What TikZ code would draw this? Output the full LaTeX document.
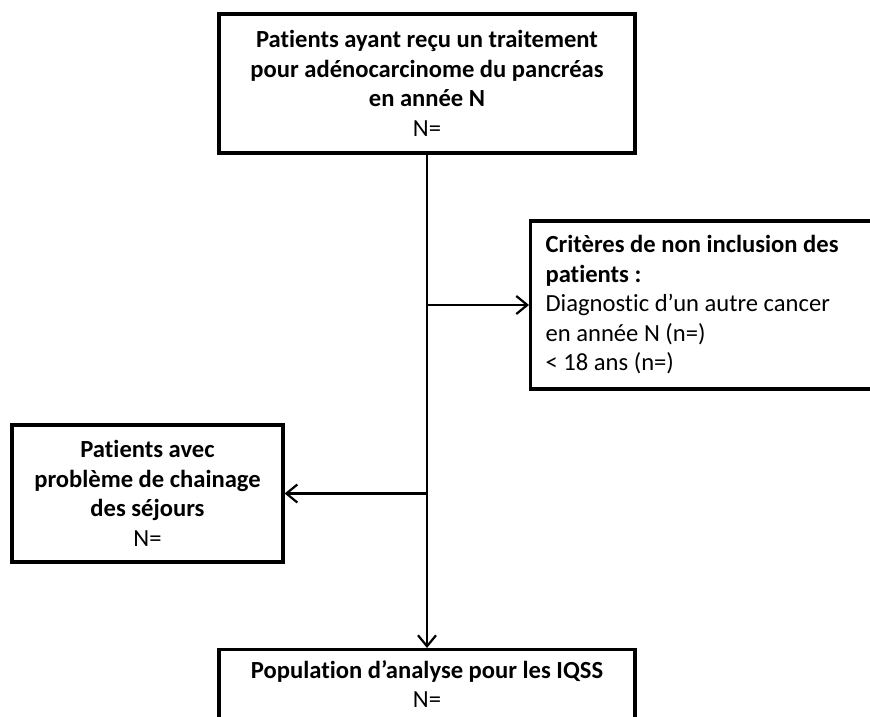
\documentclass[tikz,border=0pt]{standalone}
\usepackage{fontspec}
\setmainfont{Carlito}[Ligatures=NoCommon]
\usetikzlibrary{arrows.meta}
\begin{document}
\begin{tikzpicture}[x=1pt,y=-1pt,
  box/.style={draw, line width=3.2pt, inner sep=0pt},
  conn/.style={line width=2.2pt, -{Straight Barb[length=11pt,width=18pt,line width=2.2pt]}},
  font=\fontsize{24.6}{29.5}\selectfont]
\useasboundingbox (0,0) rectangle (870,717);
\node[box, minimum width=416pt, minimum height=139pt, align=center] (top) at (427,83.5)
  {\textbf{Patients ayant reçu un traitement}\\ \textbf{pour adénocarcinome du pancréas}\\ \textbf{en année N}\\ N=};
\node[box, minimum width=371pt, minimum height=168pt, inner xsep=15pt, text width=341pt, align=flush left, anchor=west] (right) at (529,305)
  {\textbf{Critères de non inclusion des}\\ \textbf{patients :}\\ Diagnostic d’un autre cancer\\ en année N (n=)\\ < 18 ans (n=)};
\node[box, minimum width=271pt, minimum height=137pt, align=center] (left) at (147.5,493.5)
  {\textbf{Patients avec}\\ \textbf{problème de chainage}\\ \textbf{des séjours}\\ N=};
\node[box, minimum width=416pt, minimum height=110pt, anchor=north] (bot) at (427,648) {};
\node[align=center, anchor=north, inner sep=0pt] (bottxt) at (427,660)
  {\textbf{Population d’analyse pour les IQSS}\\ N=};
\draw[conn] (top.south) -- (bot.north);
\draw[conn] (top.south |- right.west) -- (right.west);
\draw[conn] (top.south |- left.east) -- (left.east);
\end{tikzpicture}
\end{document}
